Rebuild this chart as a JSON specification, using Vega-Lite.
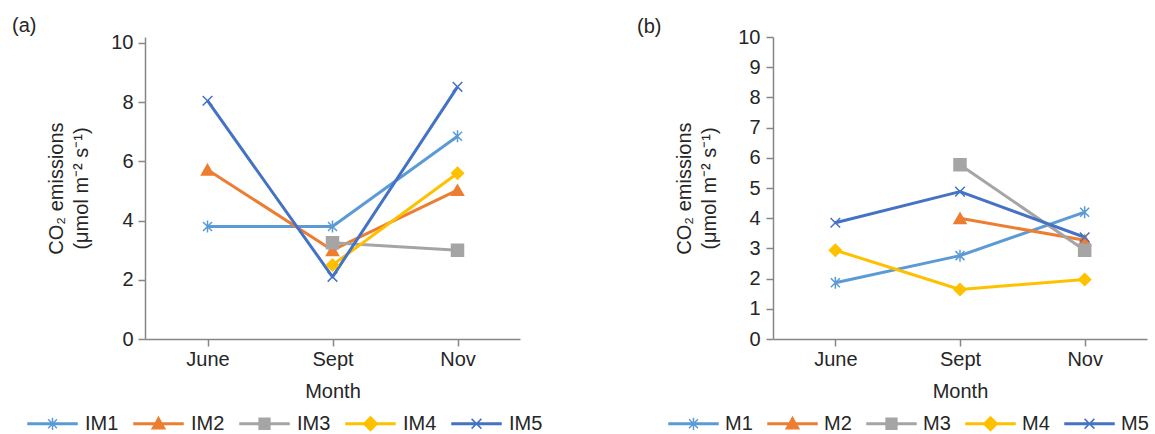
{
  "$schema": "https://vega.github.io/schema/vega-lite/v6.json",
  "background": "white",
  "padding": {"left": 12, "top": 15, "right": 0, "bottom": 0},
  "spacing": 94,
  "config": {
    "font": "Liberation Sans",
    "view": {"stroke": null},
    "axis": {
      "grid": false,
      "domainColor": "#868686",
      "domainWidth": 1.5,
      "tickColor": "#868686",
      "tickWidth": 1.5,
      "tickSize": 7,
      "labelFontSize": 20,
      "labelColor": "#262626",
      "titleFontSize": 20,
      "titleFontWeight": "normal",
      "titleColor": "#262626"
    },
    "legend": {
      "labelFontSize": 20,
      "labelColor": "#262626",
      "padding": 0
    },
    "title": {"fontSize": 20, "fontWeight": "normal", "color": "#262626"}
  },
  "resolve": {
    "scale": {"color": "independent", "shape": "independent", "stroke": "independent", "x": "independent", "y": "independent"},
    "legend": {"color": "independent", "shape": "independent", "stroke": "independent"}
  },
  "hconcat": [
    {
      "width": 375,
      "height": 302,
      "title": {"text": "(a)", "anchor": "start", "frame": "group", "dx": -133, "offset": -13, "baseline": "middle"},
      "data": {"values": [
        {"series": "IM1", "month": "June", "value": 3.8},
        {"series": "IM1", "month": "Sept", "value": 3.8},
        {"series": "IM1", "month": "Nov", "value": 6.85},
        {"series": "IM2", "month": "June", "value": 5.72},
        {"series": "IM2", "month": "Sept", "value": 3.0},
        {"series": "IM2", "month": "Nov", "value": 5.03},
        {"series": "IM3", "month": "Sept", "value": 3.25},
        {"series": "IM3", "month": "Nov", "value": 3.0},
        {"series": "IM4", "month": "Sept", "value": 2.5},
        {"series": "IM4", "month": "Nov", "value": 5.6},
        {"series": "IM5", "month": "June", "value": 8.05},
        {"series": "IM5", "month": "Sept", "value": 2.1},
        {"series": "IM5", "month": "Nov", "value": 8.52}
      ]},
      "encoding": {
        "x": {"field": "month", "type": "ordinal", "sort": ["June", "Sept", "Nov"],
              "scale": {"type": "point", "padding": 0.5},
              "axis": {"title": "Month", "labelAngle": 0, "labelPadding": 3, "titlePadding": 12}},
        "y": {"field": "value", "type": "quantitative",
              "scale": {"domain": [0, 10.2027], "nice": false, "zero": true},
              "axis": {"values": [0, 2, 4, 6, 8, 10], "labelPadding": 5, "titlePadding": 19,
                       "title": ["CO₂ emissions", "(μmol m⁻² s⁻¹)"], "titleLineHeight": 25}},
        "color": {"field": "series", "type": "nominal",
                  "scale": {"domain": ["IM1", "IM2", "IM3", "IM4", "IM5"], "range": ["#5B9BD5", "#ED7D31", "#A5A5A5", "#FFC000", "#4472C4"]},
                  "legend": {
                    "orient": "none", "legendX": -118, "legendY": 361, "direction": "horizontal", "title": null,
                    "symbolSize": 2401, "labelOffset": 7, "columnPadding": 12,
                    "encode": {"symbols": {"update": {
                      "shape": {"signal": "['M-1,-0.03L1,-0.03L1,0.03L-1,0.03Z M0,-0.25L0,0.25M-0.18,-0.18L0.18,0.18M-0.18,0.18L0.18,-0.18', 'M-1,-0.03L1,-0.03L1,0.03L-1,0.03Z M0,-0.26L0.26,0.2L-0.26,0.2Z', 'M-1,-0.03L1,-0.03L1,0.03L-1,0.03Z M-0.22,-0.22L0.22,-0.22L0.22,0.22L-0.22,0.22Z', 'M-1,-0.03L1,-0.03L1,0.03L-1,0.03Z M0,-0.28L0.28,0L0,0.28L-0.28,0Z', 'M-1,-0.03L1,-0.03L1,0.03L-1,0.03Z M-0.2,-0.2L0.2,0.2M-0.2,0.2L0.2,-0.2'][indexof(['IM1','IM2','IM3','IM4','IM5'], datum.value)]"},
                      "fill": {"signal": "['#5B9BD5','#ED7D31','#A5A5A5','#FFC000','#4472C4'][indexof(['IM1','IM2','IM3','IM4','IM5'], datum.value)]"},
                      "stroke": {"signal": "['#5B9BD5','#ED7D31','#A5A5A5','#FFC000','#4472C4'][indexof(['IM1','IM2','IM3','IM4','IM5'], datum.value)]"},
                      "strokeWidth": {"value": 1.5},
                      "opacity": {"value": 1},
                      "size": {"value": 2401}
                    }}}
                  }}
      },
      "layer": [
        {"mark": {"type": "line", "strokeWidth": 3, "strokeJoin": "round"}},
        {"mark": {"type": "point", "filled": true, "opacity": 1, "size": 144, "strokeWidth": 1.5},
         "encoding": {
           "shape": {"field": "series", "type": "nominal", "legend": null,
                     "scale": {"domain": ["IM5", "IM4", "IM3", "IM2", "IM1"],
                               "range": ["M-0.8,-0.8L0.8,0.8M-0.8,0.8L0.8,-0.8", "diamond", "square", "triangle-up", "M0,-1V1M-0.75,-0.75L0.75,0.75M-0.75,0.75L0.75,-0.75"]}},
           "stroke": {"field": "series", "type": "nominal", "legend": null,
                      "scale": {"domain": ["IM5", "IM4", "IM3", "IM2", "IM1"], "range": ["#4472C4", "#FFC000", "#A5A5A5", "#ED7D31", "#5B9BD5"]}}
         }}
      ]
    },
    {
      "width": 374,
      "height": 302,
      "title": {"text": "(b)", "anchor": "start", "frame": "group", "dx": -136, "offset": -20, "baseline": "middle"},
      "data": {"values": [
        {"series": "M1", "month": "June", "value": 1.86},
        {"series": "M1", "month": "Sept", "value": 2.76},
        {"series": "M1", "month": "Nov", "value": 4.2},
        {"series": "M2", "month": "Sept", "value": 4.0},
        {"series": "M2", "month": "Nov", "value": 3.27},
        {"series": "M3", "month": "Sept", "value": 5.77},
        {"series": "M3", "month": "Nov", "value": 2.94},
        {"series": "M4", "month": "June", "value": 2.94},
        {"series": "M4", "month": "Sept", "value": 1.64},
        {"series": "M4", "month": "Nov", "value": 1.97},
        {"series": "M5", "month": "June", "value": 3.85},
        {"series": "M5", "month": "Sept", "value": 4.88},
        {"series": "M5", "month": "Nov", "value": 3.37}
      ]},
      "encoding": {
        "x": {"field": "month", "type": "ordinal", "sort": ["June", "Sept", "Nov"],
              "scale": {"type": "point", "padding": 0.5},
              "axis": {"title": "Month", "labelAngle": 0, "labelPadding": 3, "titlePadding": 12}},
        "y": {"field": "value", "type": "quantitative",
              "scale": {"domain": [0, 10], "nice": false, "zero": true},
              "axis": {"values": [0, 1, 2, 3, 4, 5, 6, 7, 8, 9, 10], "labelPadding": 6, "titlePadding": 18,
                       "title": ["CO₂ emissions", "(μmol m⁻² s⁻¹)"], "titleLineHeight": 25}},
        "color": {"field": "series", "type": "nominal",
                  "scale": {"domain": ["M1", "M2", "M3", "M4", "M5"], "range": ["#5B9BD5", "#ED7D31", "#A5A5A5", "#FFC000", "#4472C4"]},
                  "legend": {
                    "orient": "none", "legendX": -105, "legendY": 361, "direction": "horizontal", "title": null,
                    "symbolSize": 2401, "labelOffset": 6, "columnPadding": 12,
                    "encode": {"symbols": {"update": {
                      "shape": {"signal": "['M-1,-0.03L1,-0.03L1,0.03L-1,0.03Z M0,-0.25L0,0.25M-0.18,-0.18L0.18,0.18M-0.18,0.18L0.18,-0.18', 'M-1,-0.03L1,-0.03L1,0.03L-1,0.03Z M0,-0.26L0.26,0.2L-0.26,0.2Z', 'M-1,-0.03L1,-0.03L1,0.03L-1,0.03Z M-0.22,-0.22L0.22,-0.22L0.22,0.22L-0.22,0.22Z', 'M-1,-0.03L1,-0.03L1,0.03L-1,0.03Z M0,-0.28L0.28,0L0,0.28L-0.28,0Z', 'M-1,-0.03L1,-0.03L1,0.03L-1,0.03Z M-0.2,-0.2L0.2,0.2M-0.2,0.2L0.2,-0.2'][indexof(['M1','M2','M3','M4','M5'], datum.value)]"},
                      "fill": {"signal": "['#5B9BD5','#ED7D31','#A5A5A5','#FFC000','#4472C4'][indexof(['M1','M2','M3','M4','M5'], datum.value)]"},
                      "stroke": {"signal": "['#5B9BD5','#ED7D31','#A5A5A5','#FFC000','#4472C4'][indexof(['M1','M2','M3','M4','M5'], datum.value)]"},
                      "strokeWidth": {"value": 1.5},
                      "opacity": {"value": 1},
                      "size": {"value": 2401}
                    }}}
                  }}
      },
      "layer": [
        {"mark": {"type": "line", "strokeWidth": 3, "strokeJoin": "round"}},
        {"mark": {"type": "point", "filled": true, "opacity": 1, "size": 144, "strokeWidth": 1.5},
         "encoding": {
           "shape": {"field": "series", "type": "nominal", "legend": null,
                     "scale": {"domain": ["M5", "M4", "M3", "M2", "M1"],
                               "range": ["M-0.8,-0.8L0.8,0.8M-0.8,0.8L0.8,-0.8", "diamond", "square", "triangle-up", "M0,-1V1M-0.75,-0.75L0.75,0.75M-0.75,0.75L0.75,-0.75"]}},
           "stroke": {"field": "series", "type": "nominal", "legend": null,
                      "scale": {"domain": ["M5", "M4", "M3", "M2", "M1"], "range": ["#4472C4", "#FFC000", "#A5A5A5", "#ED7D31", "#5B9BD5"]}}
         }}
      ]
    }
  ]
}
